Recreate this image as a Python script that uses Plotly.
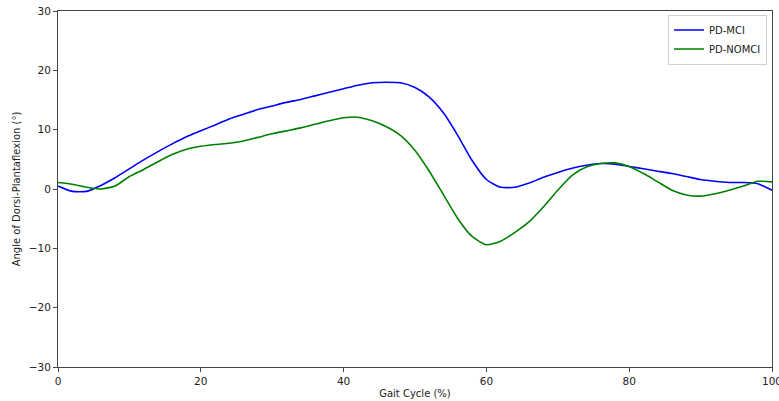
import plotly.graph_objects as go

gait = list(range(0, 101, 2))
pd_mci = [0.5, -0.4, -0.4, 0.6, 1.9, 3.4, 4.9, 6.3, 7.6, 8.8, 9.8, 10.8, 11.8, 12.6, 13.4,
          14.0, 14.6, 15.1, 15.7, 16.3, 16.9, 17.5, 17.9, 18.0, 17.9, 17.1, 15.5, 12.8, 9.0,
          4.8, 1.6, 0.3, 0.3, 1.0, 2.0, 2.8, 3.5, 4.0, 4.3, 4.2, 3.8, 3.4, 3.0, 2.6, 2.1,
          1.6, 1.3, 1.1, 1.1, 0.9, -0.2]
pd_nomci = [1.1, 0.8, 0.3, 0.0, 0.5, 2.1, 3.3, 4.6, 5.8, 6.7, 7.2, 7.5, 7.7, 8.1, 8.7,
            9.3, 9.8, 10.3, 10.9, 11.5, 12.0, 12.1, 11.5, 10.5, 9.0, 6.5, 3.0, -1.0, -5.0,
            -8.0, -9.4, -8.8, -7.3, -5.5, -3.0, -0.2, 2.3, 3.7, 4.3, 4.4, 3.8, 2.6, 1.2,
            -0.2, -1.0, -1.2, -0.8, -0.2, 0.5, 1.3, 1.2]
x_ticks = [0, 20, 40, 60, 80, 100]
y_ticks = [-30, -20, -10, 0, 10, 20, 30]
y_tick_text = ["\u221230", "\u221220", "\u221210", "0", "10", "20", "30"]

fig = go.Figure()
fig.add_trace(go.Scatter(x=gait, y=pd_mci, mode="lines", name="PD-MCI",
                         line=dict(color="#0000ff", width=1.6, shape="spline", smoothing=0.6)))
fig.add_trace(go.Scatter(x=gait, y=pd_nomci, mode="lines", name="PD-NOMCI",
                         line=dict(color="#008000", width=1.6, shape="spline", smoothing=0.6)))

axis_common = dict(showline=True, mirror=True, linecolor="#444", linewidth=1,
                   ticks="outside", ticklen=4, tickcolor="#444", showgrid=False,
                   zeroline=False, automargin=False, ticklabeloverflow="allow",
                   tickfont=dict(size=10.5, color="#222"))
fig.update_layout(
    width=779, height=401,
    margin=dict(l=58, r=7, t=11, b=34, autoexpand=False),
    paper_bgcolor="white", plot_bgcolor="white",
    font=dict(family="DejaVu Sans", size=10, color="#222"),
    xaxis=dict(range=[0, 100], tickvals=x_ticks,
               title=dict(text="Gait Cycle (%)", standoff=4, font=dict(size=10)), **axis_common),
    yaxis=dict(range=[-30, 30], tickvals=y_ticks, ticktext=y_tick_text,
               title=dict(text="Angle of Dorsi-Plantaflexion (°)", standoff=6, font=dict(size=10)),
               **axis_common),
    legend=dict(x=0.993, y=0.99, xanchor="right", yanchor="top",
                bordercolor="#d0d0d0", borderwidth=1, bgcolor="rgba(255,255,255,0.8)",
                font=dict(size=10), itemwidth=30, tracegroupgap=0),
)
fig.write_html("out.html")
